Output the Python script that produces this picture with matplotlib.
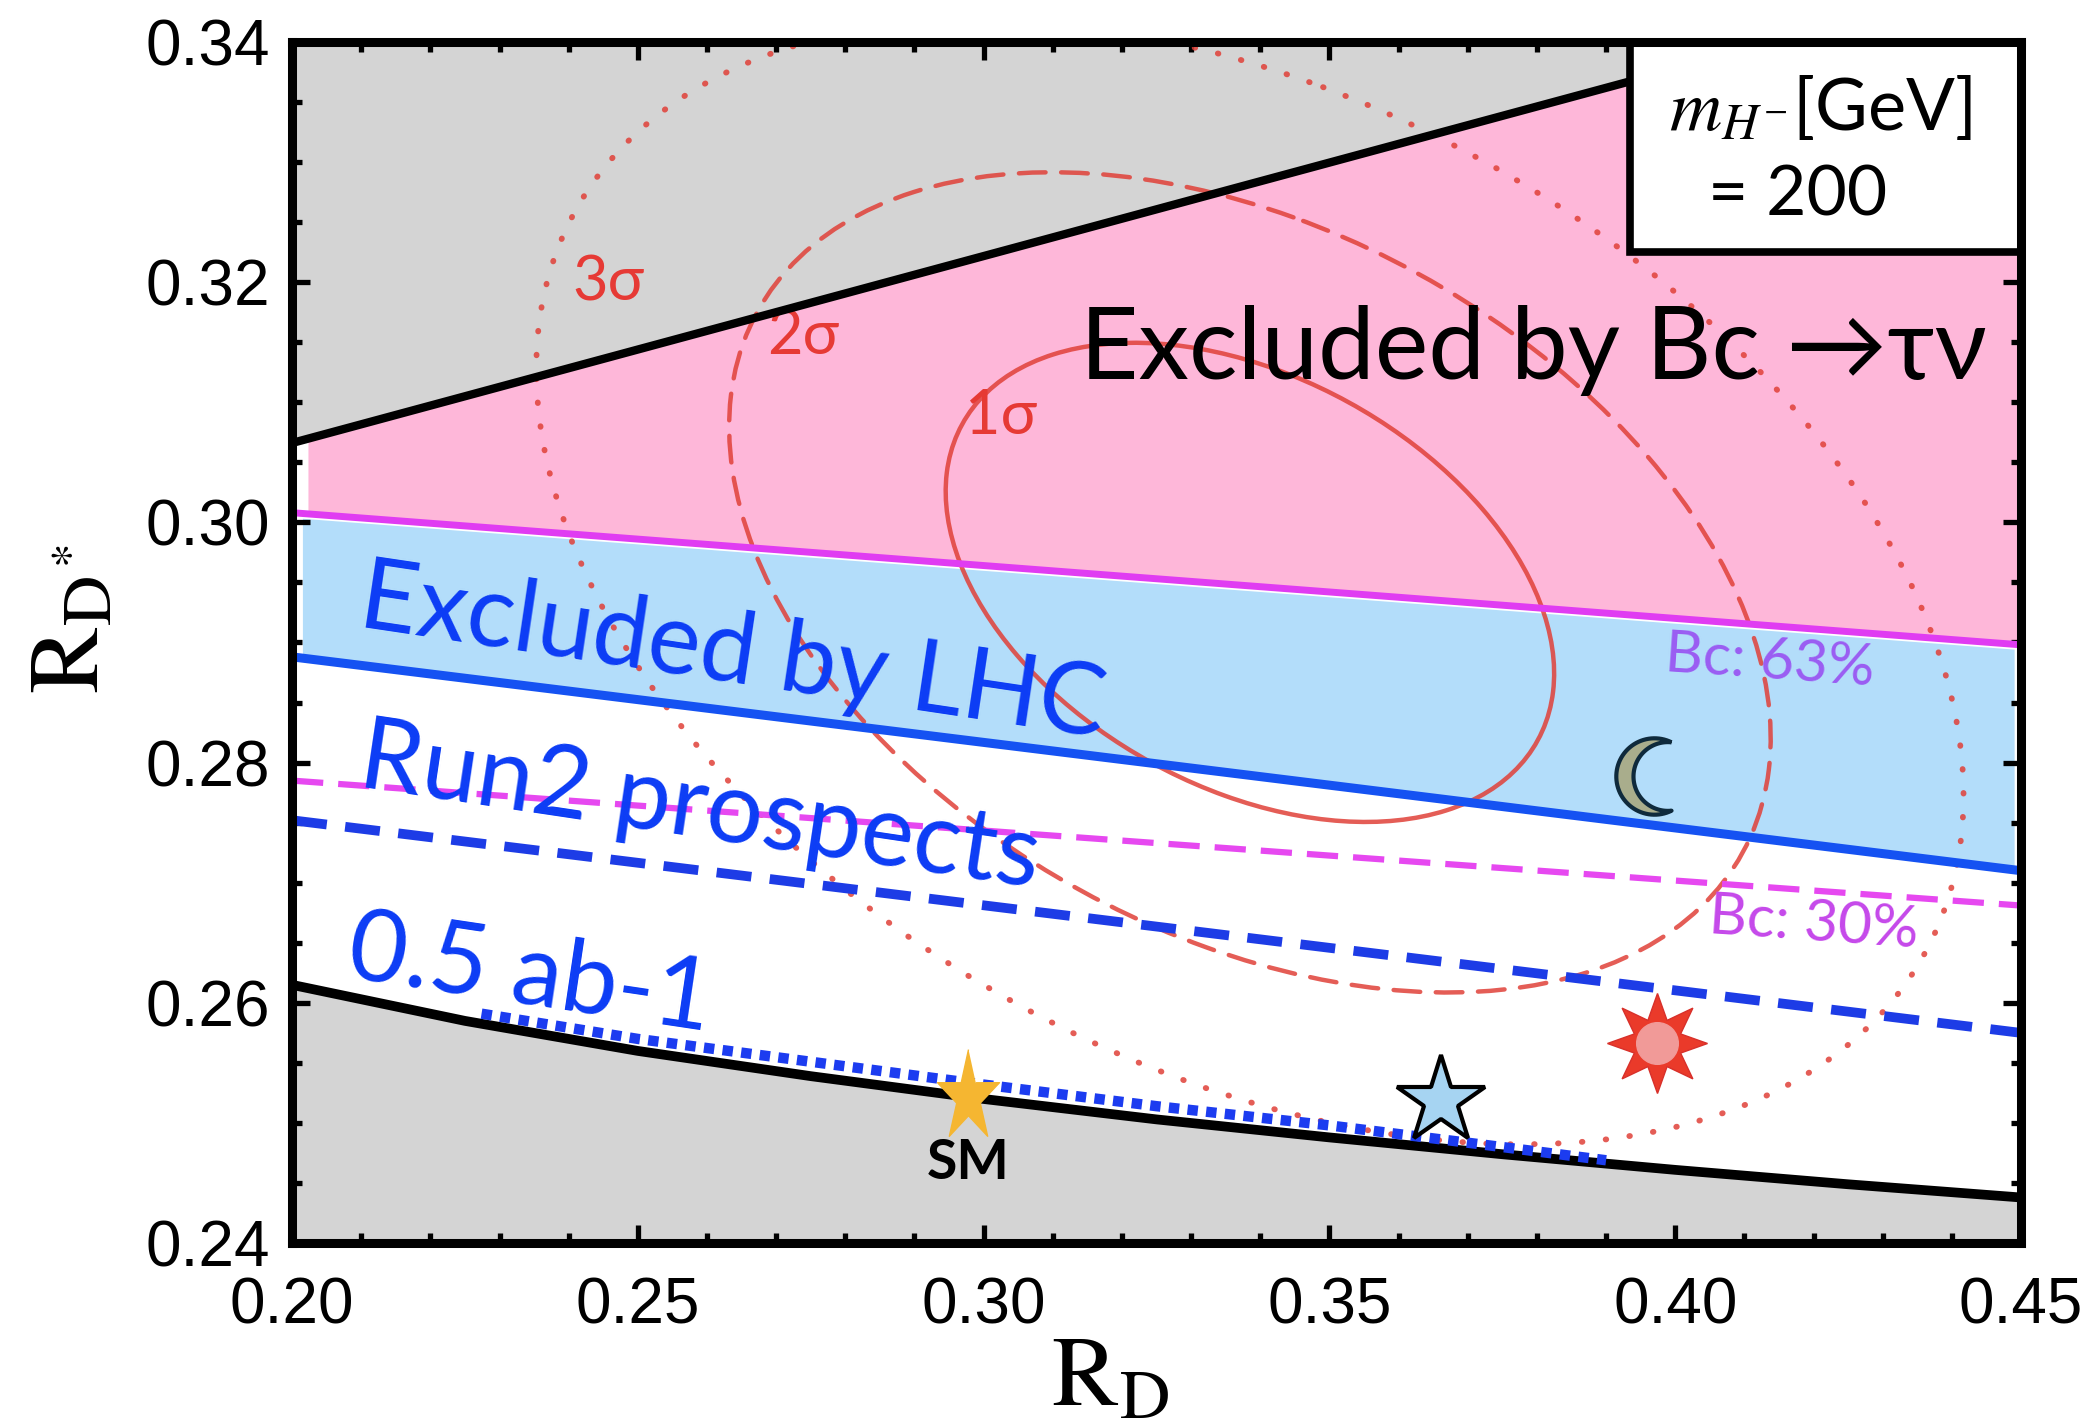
import numpy as np
import matplotlib.pyplot as plt
from matplotlib.patches import Ellipse, Rectangle
from matplotlib.path import Path
from matplotlib.ticker import MultipleLocator

plt.rcParams['mathtext.fontset'] = 'stix'
TXT = ['Lato', 'Noto Sans', 'DejaVu Sans']

# ---- data ----
# straight upper limit (black)
upper_x = [0.20, 0.45]
upper_y = [0.3066, 0.3455]
# curved lower limit (black)
lower_x = [0.20, 0.225, 0.25, 0.275, 0.30, 0.325, 0.35, 0.375, 0.40, 0.425, 0.45]
lower_y = [0.2615, 0.2585, 0.2560, 0.2539, 0.2520, 0.2503, 0.2488, 0.2474, 0.2461, 0.2449, 0.2438]
# Bc -> tau nu 63% (solid magenta) and 30% (dashed magenta)
bc63_x = [0.20, 0.45]
bc63_y = [0.3008, 0.2898]
bc30_x = [0.20, 0.45]
bc30_y = [0.2785, 0.2681]
# LHC exclusion (solid blue) and run2 prospect (dashed blue)
lhc_x = [0.20, 0.45]
lhc_y = [0.2888, 0.2710]
run2_x = [0.20, 0.45]
run2_y = [0.2752, 0.2575]
# 0.5 ab-1 prospect (dotted blue)
lumi_x = [0.2274, 0.25, 0.275, 0.30, 0.325, 0.35, 0.375, 0.390]
lumi_y = [0.2591, 0.2570, 0.2551, 0.2532, 0.2514, 0.2498, 0.2480, 0.2469]

# experimental average
avg_center = (0.3385, 0.295)
avg_sigma = (0.0300, 0.0136)
avg_rho = -0.38
chi2_levels = [2.15, 6.30, 11.83]
sigma_names = ['1σ', '2σ', '3σ']
sigma_label_x = [0.3025, 0.2739, 0.2458]
sigma_label_y = [0.3088, 0.3155, 0.3199]

# benchmark points
sm_pt = (0.2977, 0.2522)
star_pt = (0.3662, 0.2518)
sun_pt = (0.3973, 0.2567)
moon_pt = (0.3969, 0.2789)

fig = plt.figure(figsize=(20.95, 14.24), dpi=100)
ax = fig.add_axes([0.1394, 0.127, 0.8253, 0.8437])
ax.set_xlim(0.20, 0.45)
ax.set_ylim(0.24, 0.34)

gray = '#d4d4d4'
ax.fill_between(upper_x, upper_y, 0.34, color=gray, lw=0, zorder=1)
ax.fill_between(lower_x, 0.24, lower_y, color=gray, lw=0, zorder=1)

xp = np.array([0.2023, 0.45])
ax.fill_between(xp, np.interp(xp, bc63_x, bc63_y), np.interp(xp, upper_x, upper_y),
                color='#feb7d9', lw=0, zorder=1)
xb = np.array([0.2015, 0.449])
ax.fill_between(xb, np.interp(xb, lhc_x, lhc_y), np.interp(xb, bc63_x, bc63_y) - 0.0004,
                color='#b3ddfa', lw=0, zorder=1)

# sigma ellipses
cov = np.array([[avg_sigma[0] ** 2, avg_rho * avg_sigma[0] * avg_sigma[1]],
                [avg_rho * avg_sigma[0] * avg_sigma[1], avg_sigma[1] ** 2]])
vals, vecs = np.linalg.eigh(cov)
ang = np.degrees(np.arctan2(vecs[1, 1], vecs[0, 1]))
styles = ['-', (0, (6, 3.5)), (0, (0.1, 4.0))]
widths = [3.2, 3.2, 4.2]
for k, ls, w in zip(chi2_levels, styles, widths):
    e = Ellipse(avg_center, 2 * np.sqrt(k * vals[1]), 2 * np.sqrt(k * vals[0]), angle=ang,
                fill=False, ec='#e04038', lw=w, ls=ls, capstyle='round', alpha=0.85, zorder=2)
    ax.add_patch(e)
for name, x, y in zip(sigma_names, sigma_label_x, sigma_label_y):
    ax.text(x, y, name, color='#e63a35', fontsize=44, family=TXT, ha='center', va='center', zorder=3)

# lines
ax.plot(upper_x, upper_y, color='black', lw=6, zorder=4, solid_capstyle='butt')
ax.plot(lower_x, lower_y, color='black', lw=7, zorder=4)
ax.plot(bc63_x, bc63_y, color='#e03cf2', lw=5, zorder=4)
ax.plot(bc30_x, bc30_y, color='#e648f0', lw=4.5, ls=(0, (5, 2.4)), zorder=4)
ax.plot(lhc_x, lhc_y, color='#1552f2', lw=6.5, zorder=4)
ax.plot(run2_x, run2_y, color='#1d3ce6', lw=7, ls=(0, (3.6, 1.9)), zorder=4)
ax.plot(lumi_x, lumi_y, color='#1c3cf0', lw=7.5, ls=(0, (1, 0.8)), zorder=5,
        dash_capstyle='butt')

# markers
t = np.deg2rad(90 + 36 * np.arange(10))
r = np.where(np.arange(10) % 2 == 0, 1.0, 0.38)
thin_star = Path(np.column_stack([0.68 * r * np.cos(t), r * np.sin(t)]))
ax.plot(*sm_pt, marker=thin_star, ms=69, mfc='#f5b631', mec='#f5b631', mew=1, zorder=6)
ax.plot(*star_pt, marker='*', ms=66, mfc='#a6d4f2', mec='black', mew=3, zorder=6)
ax.plot(*sun_pt, marker=(8, 1, 0), ms=72, mfc='#ea3a2a', mec='#d8302a', mew=1, zorder=6)
ax.plot(*sun_pt, marker='o', ms=30, mfc='#f19a98', mec='#f19a98', zorder=7)

a_out = np.deg2rad(np.linspace(63.5, 296.5, 60))
a_in = np.deg2rad(np.linspace(276.1, 83.9, 60))
moon = Path(np.vstack([np.column_stack([np.cos(a_out), np.sin(a_out)]),
                       np.column_stack([0.35 + 0.9 * np.cos(a_in), 0.9 * np.sin(a_in)])]))
ax.plot(*moon_pt, marker=moon, ms=55, mfc='#a9ad8c', mec='#0f2a3c', mew=3, zorder=6)

ax.text(sm_pt[0], 0.2467, 'SM', fontsize=40, fontweight='bold', family=TXT,
        ha='center', va='center', zorder=6)

# annotations
ax.text(0.3795, 0.3143, 'Excluded by Bc →τν', fontsize=73, family=TXT,
        ha='center', va='center', zorder=6)
ax.text(0.2637, 0.2891, 'Excluded by LHC', fontsize=72, family=TXT, color='#0c3cf5',
        rotation=-8.5, ha='center', va='center', rotation_mode='anchor', zorder=6)
ax.text(0.2589, 0.2762, 'Run2 prospects', fontsize=72, family=TXT, color='#0c3cf5',
        rotation=-8.5, ha='center', va='center', rotation_mode='anchor', zorder=6)
ax.text(0.2345, 0.2623, '0.5 ab-1', fontsize=72, family=TXT, color='#0c3cf5',
        rotation=-8.5, ha='center', va='center', rotation_mode='anchor', zorder=6)
ax.text(0.4137, 0.2884, 'Bc: 63%', fontsize=42, family=TXT, color='#9a5cf2',
        rotation=-4, ha='center', va='center', rotation_mode='anchor', zorder=6)
ax.text(0.4201, 0.2666, 'Bc: 30%', fontsize=42, family=TXT, color='#c548ea',
        rotation=-4, ha='center', va='center', rotation_mode='anchor', zorder=6)

# mass box
ax.add_patch(Rectangle((0.774, 0.825), 0.226, 0.175, transform=ax.transAxes,
                       fc='white', ec='black', lw=5.5, zorder=8, clip_on=False))
ax.text(0.884, 0.945, r'$m_{H^{-}}$[GeV]', transform=ax.transAxes, fontsize=52,
        family=TXT, ha='center', va='center', zorder=9)
ax.text(0.871, 0.872, '= 200', transform=ax.transAxes, fontsize=50,
        family=TXT, ha='center', va='center', zorder=9)

# axes styling
for s in ax.spines.values():
    s.set_linewidth(6.5)
    s.set_zorder(10)
ax.xaxis.set_major_locator(MultipleLocator(0.05))
ax.xaxis.set_minor_locator(MultipleLocator(0.01))
ax.yaxis.set_major_locator(MultipleLocator(0.02))
ax.yaxis.set_minor_locator(MultipleLocator(0.005))
ax.xaxis.set_major_formatter(plt.FuncFormatter(lambda v, p: f'{v:.2f}'))
ax.yaxis.set_major_formatter(plt.FuncFormatter(lambda v, p: f'{v:.2f}'))
ax.tick_params(which='both', direction='in', top=True, right=True, width=3.8,
               labelsize=46)
ax.tick_params(axis='x', pad=24)
ax.tick_params(axis='y', pad=16)
ax.tick_params(which='major', length=13)
ax.tick_params(which='minor', length=7)
for lab in ax.get_xticklabels() + ax.get_yticklabels():
    lab.set_family('Liberation Sans')

ax.set_xlabel(r'$\mathrm{R_D}$', fontsize=72)
ax.xaxis.set_label_coords(0.473, -0.072)
ax.set_ylabel(r'$\mathrm{R_{D^*}}$', fontsize=72)
ax.yaxis.set_label_coords(-0.10, 0.52)

fig.savefig('out.png', dpi=100)
